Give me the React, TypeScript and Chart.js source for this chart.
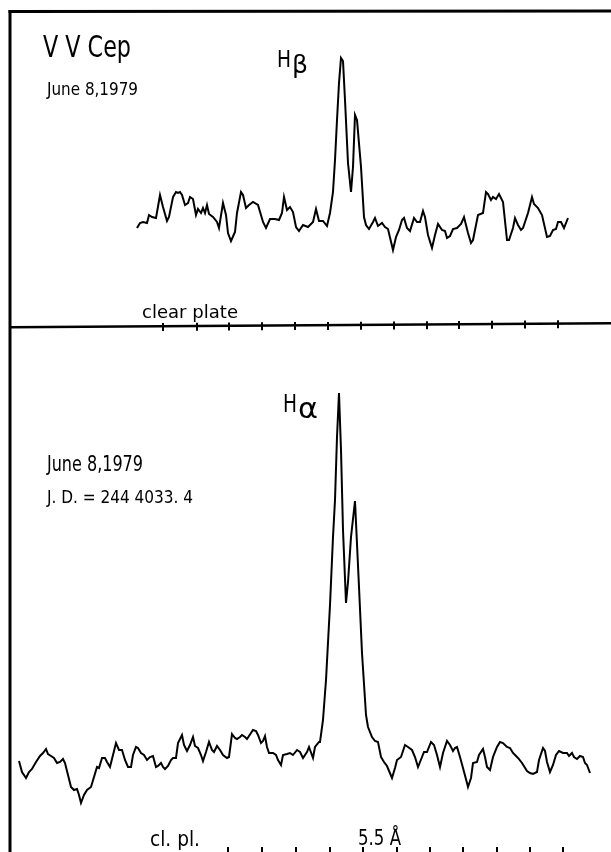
import { useEffect, useRef } from "react";
import { Chart, registerables } from "chart.js";

Chart.register(...registerables);

// Scan position along the tracing (chart units) and deflection above the clear-plate level.
const hBetaTrace: [number, number][] = [
  [137, 97], [140, 102], [143, 103], [147, 102], [149, 110], [152, 108], [156, 107], [160, 130],
  [163, 118], [167, 104], [169, 108], [173, 128], [176, 133], [178, 132], [180, 133], [182, 130],
  [185, 120], [188, 122], [190, 128], [193, 126], [196, 110], [198, 116], [201, 112], [203, 117],
  [205, 112], [207, 120], [209, 111], [213, 108], [217, 103], [219, 97], [223, 122], [226, 110],
  [228, 92], [231, 84], [235, 93], [237, 112], [241, 133], [243, 130], [246, 117], [249, 120],
  [253, 123], [258, 120], [263, 103], [266, 97], [270, 106], [275, 106], [279, 105], [282, 112],
  [284, 128], [287, 115], [290, 118], [293, 113], [296, 98], [299, 94], [303, 100], [308, 98],
  [313, 103], [316, 116], [319, 104], [323, 104], [327, 99], [330, 112], [333, 133], [335, 165],
  [337, 205], [339, 242], [341, 267], [343, 264], [345, 225], [348, 162], [351, 133], [353, 158],
  [355, 210], [357, 205], [361, 158], [364, 108], [366, 100], [369, 96], [373, 103], [375, 107],
  [378, 99], [382, 102], [385, 98], [388, 96], [393, 75], [396, 88], [399, 95], [402, 105],
  [404, 107], [407, 97], [410, 94], [414, 107], [417, 103], [420, 103], [423, 114], [425, 108],
  [428, 90], [432, 77], [435, 90], [438, 101], [442, 95], [445, 94], [447, 87], [450, 89],
  [453, 96], [457, 97], [461, 101], [464, 108], [468, 92], [471, 82], [473, 85], [478, 110],
  [483, 112], [486, 133], [488, 131], [491, 125], [493, 128], [496, 126], [499, 131], [503, 123],
  [507, 85], [509, 85], [513, 97], [515, 107], [518, 100], [521, 95], [523, 97], [528, 112],
  [532, 128], [534, 121], [538, 117], [542, 110], [547, 88], [550, 89], [553, 95], [556, 96],
  [558, 103], [561, 103], [564, 97], [568, 107],
];

const hAlphaTrace: [number, number][] = [
  [19, 89], [22, 78], [26, 72], [29, 78], [32, 81], [36, 88], [40, 94], [43, 97], [46, 101],
  [48, 96], [51, 94], [54, 92], [57, 87], [60, 88], [63, 91], [65, 87], [68, 75], [71, 63],
  [74, 60], [77, 61], [79, 55], [81, 47], [84, 55], [87, 60], [91, 63], [94, 73], [97, 83],
  [99, 82], [102, 92], [105, 92], [107, 88], [110, 83], [113, 95], [116, 107], [119, 100],
  [122, 100], [125, 90], [128, 83], [131, 83], [133, 95], [136, 103], [138, 102], [141, 97],
  [144, 95], [147, 90], [150, 93], [153, 94], [156, 83], [158, 84], [161, 87], [163, 83],
  [165, 81], [168, 84], [171, 90], [173, 92], [176, 92], [178, 107], [182, 115], [184, 105],
  [187, 99], [190, 105], [193, 113], [195, 104], [198, 102], [201, 95], [203, 89], [206, 98],
  [209, 108], [212, 100], [214, 98], [217, 104], [220, 100], [223, 95], [227, 92], [229, 93],
  [232, 116], [235, 112], [237, 111], [240, 113], [242, 115], [245, 113], [247, 111], [251, 117],
  [253, 120], [256, 119], [258, 115], [261, 107], [263, 109], [265, 114], [267, 103], [269, 97],
  [273, 97], [276, 95], [278, 90], [281, 85], [283, 95], [287, 96], [290, 97], [293, 95],
  [297, 100], [300, 98], [303, 92], [307, 98], [309, 103], [313, 92], [315, 103], [319, 108],
  [320, 108], [323, 130], [326, 170], [330, 245], [333, 313], [335, 350], [337, 413], [339, 457],
  [341, 400], [343, 320], [346, 247], [348, 268], [351, 313], [355, 349], [359, 263], [362, 197],
  [366, 135], [368, 123], [372, 113], [375, 109], [378, 108], [381, 93], [384, 88], [387, 84],
  [392, 72], [395, 82], [397, 90], [401, 93], [405, 105], [408, 103], [412, 100], [415, 93],
  [418, 83], [422, 93], [424, 98], [427, 98], [431, 108], [434, 105], [437, 95], [440, 83],
  [443, 97], [447, 109], [450, 105], [453, 99], [455, 102], [457, 103], [460, 93], [463, 82],
  [467, 67], [468, 63], [471, 72], [473, 87], [477, 88], [479, 95], [483, 101], [485, 93],
  [487, 83], [490, 80], [493, 93], [497, 103], [500, 108], [503, 107], [507, 103], [510, 102],
  [513, 97], [518, 92], [522, 87], [527, 79], [530, 77], [533, 76], [537, 78], [539, 90],
  [543, 102], [545, 99], [547, 88], [550, 78], [553, 85], [556, 95], [559, 99], [563, 97],
  [567, 97], [569, 94], [572, 97], [574, 93], [577, 91], [580, 94], [583, 93], [585, 87],
  [587, 85], [590, 77],
];

// Clear-plate reference line (upper tracing) and its scale marks
const clearPlateTop: [number, number][] = [[10, -2.3], [611, 1.7]];
const topTickPositions = [163, 197, 229, 262, 295, 328, 361, 394, 427, 459, 492, 525, 558];
const bottomTickPositions = [228, 262, 296, 330, 363, 397, 430, 463, 497, 530, 563];

const FONT = '"DejaVu Sans Condensed", "DejaVu Sans", sans-serif';

const textItems = [
  { text: "V V Cep", x: 43, y: 57, size: 30, width: 88 },
  { text: "June 8,1979", x: 47, y: 95, size: 18, width: 91 },
  { text: "H", x: 277, y: 67, size: 23, width: 14 },
  { text: "β", x: 292, y: 73, size: 24, width: 16 },
  { text: "clear plate", x: 142, y: 318, size: 17, width: 96 },
  { text: "H", x: 283, y: 412, size: 25, width: 14 },
  { text: "α", x: 298, y: 418, size: 28, width: 20 },
  { text: "June 8,1979", x: 47, y: 471, size: 22, width: 96 },
  { text: "J. D. = 244 4033. 4", x: 47, y: 503, size: 18, width: 146 },
  { text: "cl. pl.", x: 150, y: 846, size: 22, width: 50 },
  { text: "5.5 Å", x: 358, y: 845, size: 21, width: 43 },
];

const framePlugin = {
  id: "frameAndText",
  afterDraw(chart: any) {
    const ctx = chart.ctx as CanvasRenderingContext2D;
    ctx.save();
    ctx.strokeStyle = "#000";
    ctx.lineCap = "butt";
    ctx.lineWidth = 3;
    ctx.beginPath();
    ctx.moveTo(8.5, 11.5);
    ctx.lineTo(611, 11);
    ctx.stroke();
    ctx.beginPath();
    ctx.moveTo(10, 10);
    ctx.lineTo(10, 852);
    ctx.stroke();

    ctx.fillStyle = "#000";
    ctx.textBaseline = "alphabetic";
    ctx.textAlign = "left";
    for (const t of textItems) {
      ctx.font = `${t.size}px ${FONT}`;
      const w = ctx.measureText(t.text).width;
      ctx.save();
      ctx.translate(t.x, t.y);
      ctx.scale(t.width / w, 1);
      ctx.fillText(t.text, 0, 0);
      ctx.restore();
    }
    ctx.restore();
  },
};

function levelAt(pos: number) {
  const [[x0, y0], [x1, y1]] = clearPlateTop;
  return y0 + ((y1 - y0) * (pos - x0)) / (x1 - x0);
}

export default function App() {
  const ref = useRef<HTMLCanvasElement>(null);
  useEffect(() => {
    const toPts = (arr: [number, number][]) => arr.map(([x, y]) => ({ x, y }));
    const chart = new Chart(ref.current!, {
      type: "scatter",
      data: {
        datasets: [
          {
            data: toPts(hBetaTrace),
            yAxisID: "yTop",
            showLine: true,
            borderColor: "#000",
            borderWidth: 2,
            pointRadius: 0,
            tension: 0,
          },
          {
            data: toPts(hAlphaTrace),
            yAxisID: "yBot",
            showLine: true,
            borderColor: "#000",
            borderWidth: 2,
            pointRadius: 0,
            tension: 0,
          },
          {
            data: toPts(clearPlateTop),
            yAxisID: "yTop",
            showLine: true,
            borderColor: "#000",
            borderWidth: 2.6,
            pointRadius: 0,
          },
          {
            data: topTickPositions.map((x) => ({ x, y: levelAt(x) - 0.7 })),
            yAxisID: "yTop",
            showLine: false,
            pointStyle: "line",
            rotation: 90,
            pointRadius: 4,
            borderWidth: 2,
            borderColor: "#000",
            backgroundColor: "#000",
          },
          {
            data: bottomTickPositions.map((x) => ({ x, y: -1 })),
            yAxisID: "yBot",
            showLine: false,
            pointStyle: "line",
            rotation: 90,
            pointRadius: 4,
            borderWidth: 2,
            borderColor: "#000",
            backgroundColor: "#000",
          },
        ] as any,
      },
      options: {
        responsive: false,
        animation: false,
        layout: { padding: 0, autoPadding: false },
        events: [],
        plugins: { legend: { display: false }, tooltip: { enabled: false } },
        scales: {
          x: { type: "linear", display: false, min: 0, max: 611 },
          yTop: { axis: "y", type: "linear", display: false, min: -527, max: 325 },
          yBot: { axis: "y", type: "linear", display: false, min: -2, max: 850 },
        } as any,
      },
      plugins: [framePlugin],
    });
    return () => chart.destroy();
  }, []);
  return (
    <div style={{ position: "absolute", left: 0, top: 0, width: 611, height: 852, background: "#fff" }}>
      <canvas ref={ref} width={611} height={852} style={{ display: "block", width: 611, height: 852 }} />
    </div>
  );
}
